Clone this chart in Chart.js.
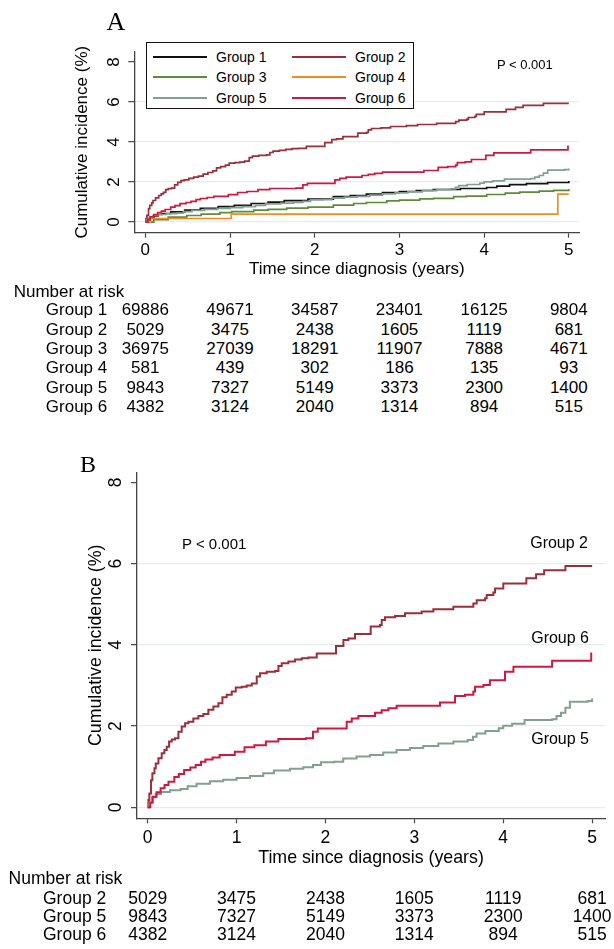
<!DOCTYPE html>
<html lang="en">
<head>
<meta charset="UTF-8">
<title>Cumulative incidence by group</title>
<script src="https://cdn.jsdelivr.net/npm/chart.js"></script>
<style>
  body { margin: 0; background: #fff; color: #000; font-family: "Liberation Sans", Arial, sans-serif; }
  #page { position: relative; width: 614px; height: 949px; overflow: hidden; }
  canvas { position: absolute; left: 0; }
  #chartA { top: 0; }
  #chartB { top: 440px; }
  .txt { position: absolute; white-space: nowrap; line-height: 1; }
  .letter { font-family: "Liberation Serif", "Times New Roman", serif; }
  #legendA { position: absolute; left: 146px; top: 42px; width: 266px; height: 65px;
             border: 1.3px solid #111; background: #fff; }
  .swatch { position: absolute; height: 2px; }
</style>
</head>
<body>
<div id="page">
  <canvas id="chartA" width="614" height="285"></canvas>
  <canvas id="chartB" width="614" height="430"></canvas>
  <div id="legendA"></div>
</div>

<script>
  const FONT = '"Liberation Sans", Arial, sans-serif';

  // axes
  const xTicks = [0, 1, 2, 3, 4, 5];
  const yTicks = [0, 2, 4, 6, 8];

  const groupNames = ['Group 1', 'Group 2', 'Group 3', 'Group 4', 'Group 5', 'Group 6'];
  const lineColors = ['#111111', '#9b2f39', '#5f8a3a', '#f08c22', '#82a08f', '#d2173f'];

  // cumulative incidence (%): [years, value]
  const group1 = [[0, 0.02], [0.02, 0.12], [0.05, 0.22], [0.1, 0.31], [0.15, 0.38], [0.2, 0.43], [0.3, 0.51],
    [0.465, 0.60], [0.65, 0.69], [0.86, 0.77], [1.05, 0.84], [1.25, 0.93], [1.45, 1.00], [1.64, 1.07],
    [1.92, 1.15], [2.22, 1.27], [2.42, 1.33], [2.61, 1.40], [2.8, 1.47], [3.0, 1.53], [3.2, 1.58],
    [3.4, 1.63], [3.72, 1.68], [4.03, 1.73], [4.15, 1.80], [4.3, 1.87], [4.5, 1.92], [4.75, 1.98], [5.0, 2.05]];
  const group2 = [[0, 0], [0.008, 0.18], [0.019, 0.34], [0.038, 0.67], [0.053, 0.84], [0.076, 0.96],
    [0.091, 1.08], [0.121, 1.21], [0.158, 1.33], [0.188, 1.41], [0.214, 1.49], [0.241, 1.62], [0.271, 1.67],
    [0.308, 1.70], [0.346, 1.86], [0.383, 1.99], [0.421, 2.07], [0.458, 2.11], [0.514, 2.19], [0.571, 2.25],
    [0.627, 2.30], [0.683, 2.40], [0.739, 2.48], [0.796, 2.56], [0.841, 2.71], [0.889, 2.77], [0.946, 2.85],
    [0.991, 2.95], [1.058, 2.97], [1.114, 3.00], [1.171, 3.05], [1.227, 3.22], [1.264, 3.30], [1.339, 3.34],
    [1.433, 3.36], [1.471, 3.48], [1.508, 3.55], [1.583, 3.59], [1.658, 3.64], [1.733, 3.67], [1.808, 3.69],
    [1.902, 3.79], [2.119, 3.97], [2.202, 4.12], [2.258, 4.16], [2.333, 4.27], [2.509, 4.45], [2.614, 4.49],
    [2.633, 4.61], [2.67, 4.68], [2.783, 4.71], [2.895, 4.78], [3.083, 4.82], [3.214, 4.88], [3.439, 4.94],
    [3.664, 5.02], [3.702, 5.10], [3.796, 5.15], [3.814, 5.23], [3.889, 5.29], [3.908, 5.39], [4.001, 5.51],
    [4.26, 5.64], [4.37, 5.74], [4.46, 5.84], [4.70, 5.94], [5.0, 5.94]];
  const group3 = [[0, 0], [0.1, 0.12], [0.27, 0.25], [0.49, 0.33], [0.66, 0.40], [0.88, 0.47], [1.02, 0.52],
    [1.28, 0.60], [1.45, 0.64], [1.67, 0.70], [1.92, 0.75], [2.22, 0.85], [2.46, 0.93], [2.61, 0.98],
    [2.85, 1.06], [3.0, 1.10], [3.24, 1.16], [3.4, 1.19], [3.64, 1.27], [3.79, 1.30], [4.03, 1.38],
    [4.25, 1.45], [4.42, 1.50], [4.65, 1.55], [4.82, 1.59], [5.0, 1.65]];
  const group4 = [[0, 0], [0.06, 0.18], [1.015, 0.40], [4.87, 1.40], [5.0, 1.40]];
  const group5 = [[0, 0], [0.02, 0.12], [0.05, 0.25], [0.09, 0.33], [0.15, 0.38], [0.25, 0.42], [0.37, 0.45],
    [0.45, 0.52], [0.55, 0.58], [0.7, 0.64], [0.85, 0.68], [1.0, 0.72], [1.15, 0.77], [1.3, 0.84], [1.42, 0.91],
    [1.6, 0.95], [1.75, 0.99], [1.86, 1.04], [1.95, 1.11], [2.1, 1.12], [2.2, 1.20], [2.35, 1.25], [2.5, 1.29],
    [2.65, 1.35], [2.8, 1.41], [2.95, 1.46], [3.1, 1.51], [3.27, 1.57], [3.44, 1.62], [3.6, 1.66], [3.66, 1.74],
    [3.7, 1.82], [3.8, 1.88], [3.95, 1.95], [4.0, 2.01], [4.1, 2.06], [4.24, 2.15], [4.55, 2.17], [4.6, 2.25],
    [4.65, 2.33], [4.7, 2.45], [4.75, 2.60], [4.95, 2.62], [5.0, 2.68]];
  const group6 = [[0, 0], [0.03, 0.12], [0.057, 0.26], [0.1, 0.37], [0.145, 0.47], [0.19, 0.55], [0.234, 0.63],
    [0.3, 0.75], [0.35, 0.82], [0.41, 0.92], [0.48, 0.98], [0.54, 1.04], [0.6, 1.12], [0.65, 1.18], [0.73, 1.23],
    [0.81, 1.29], [0.98, 1.37], [1.09, 1.48], [1.2, 1.53], [1.33, 1.62], [1.47, 1.68], [1.78, 1.70], [1.86, 1.86],
    [1.914, 1.94], [2.239, 2.11], [2.296, 2.19], [2.371, 2.25], [2.558, 2.33], [2.633, 2.39], [2.708, 2.44],
    [2.801, 2.50], [3.289, 2.58], [3.458, 2.74], [3.57, 2.77], [3.664, 2.85], [3.683, 2.97], [3.777, 3.01],
    [3.85, 3.13], [4.02, 3.34], [4.115, 3.46], [4.55, 3.61], [4.99, 3.79], [5.0, 3.79]];
  const allGroups = [group1, group2, group3, group4, group5, group6];

  // number at risk at years 0..5
  const riskGroup1 = [69886, 49671, 34587, 23401, 16125, 9804];
  const riskGroup2 = [5029, 3475, 2438, 1605, 1119, 681];
  const riskGroup3 = [36975, 27039, 18291, 11907, 7888, 4671];
  const riskGroup4 = [581, 439, 302, 186, 135, 93];
  const riskGroup5 = [9843, 7327, 5149, 3373, 2300, 1400];
  const riskGroup6 = [4382, 3124, 2040, 1314, 894, 515];
  const allRisk = [riskGroup1, riskGroup2, riskGroup3, riskGroup4, riskGroup5, riskGroup6];

  const panelAGroups = [0, 1, 2, 3, 4, 5];
  const panelBGroups = [1, 4, 5];

  const page = document.getElementById('page');

  function addText(text, x, y, size, align, extraClass) {
    const d = document.createElement('div');
    d.className = 'txt' + (extraClass ? ' ' + extraClass : '');
    d.textContent = text;
    d.style.fontSize = size + 'px';
    d.style.left = x + 'px';
    d.style.top = y + 'px';
    const tx = align === 'center' ? '-50%' : (align === 'right' ? '-100%' : '0');
    d.style.transform = 'translate(' + tx + ', -50%)';
    page.appendChild(d);
    return d;
  }

  function makeChart(id, shown, o) {
    const datasets = shown.map(i => ({
      label: groupNames[i],
      data: allGroups[i].map(p => ({ x: p[0], y: p[1] })),
      borderColor: lineColors[i],
      borderWidth: o.lineWidth,
      stepped: 'before',
      pointRadius: 0,
      tension: 0,
      fill: false,
      order: 10 - i
    }));
    return new Chart(document.getElementById(id), {
      type: 'line',
      data: { datasets: datasets },
      options: {
        responsive: false,
        animation: false,
        events: [],
        layout: { padding: o.pad },
        plugins: { legend: { display: false }, tooltip: { enabled: false } },
        scales: {
          x: {
            type: 'linear', min: o.xMin, max: o.xMax,
            afterBuildTicks: s => { s.ticks = xTicks.map(v => ({ value: v })); },
            afterFit: s => { s.height = o.xHeight; },
            ticks: { autoSkip: false, maxRotation: 0, minRotation: 0, padding: o.xTickPad, color: '#000',
                     font: { family: FONT, size: o.tickSize, lineHeight: 1.2 }, callback: v => String(v) },
            grid: { drawOnChartArea: false, drawTicks: true, tickLength: 5, tickColor: '#444', tickWidth: 1.2 },
            border: { color: '#444', width: 1.3 },
            title: { display: true, text: 'Time since diagnosis (years)', color: '#000', padding: 0,
                     font: { family: FONT, size: o.titleSize, lineHeight: 1.2 } }
          },
          y: {
            type: 'linear', min: o.yMin, max: o.yMax,
            afterBuildTicks: s => { s.ticks = yTicks.map(v => ({ value: v })); },
            afterFit: s => { s.width = o.yWidth; },
            ticks: { minRotation: 90, maxRotation: 90, crossAlign: 'center', padding: o.yTickPad, color: '#000',
                     font: { family: FONT, size: o.tickSize, lineHeight: 1.2 }, callback: v => String(v) },
            grid: {
              color: c => (c.tick && c.tick.value === 8) ? 'rgba(0,0,0,0)' : '#e4eef0',
              lineWidth: 1.3, drawTicks: true, tickLength: 6, tickColor: '#444', tickWidth: 1.2
            },
            border: { color: '#444', width: 1.3 },
            title: { display: true, text: 'Cumulative incidence (%)', color: '#000', padding: 0,
                     font: { family: FONT, size: o.titleSize, lineHeight: 1.2 } }
          }
        }
      }
    });
  }

  const chartA = makeChart('chartA', panelAGroups, {
    xMin: -0.13, xMax: 5.126, yMin: -0.53, yMax: 8.52,
    pad: { left: 71.8, top: 51.7, right: 34.5, bottom: 5.5 },
    yWidth: 62.5, xHeight: 46.8, tickSize: 17, titleSize: 17,
    yTickPad: 9, xTickPad: 2, lineWidth: 1.7
  });

  const chartB = makeChart('chartB', panelBGroups, {
    xMin: -0.12, xMax: 5.145, yMin: -0.27, yMax: 8.25,
    pad: { left: 85.3, top: 32.3, right: 9, bottom: 1.6 },
    yWidth: 51.7, xHeight: 50.1, tickSize: 17.5, titleSize: 17.8,
    yTickPad: 10, xTickPad: 4.5, lineWidth: 2
  });

  // legend for panel A (2 columns, 3 rows)
  const legend = document.getElementById('legendA');
  const legendRows = [14, 34, 55];
  const legendCols = [{ line: 6, text: 69 }, { line: 144.5, text: 208 }];
  panelAGroups.forEach((g, k) => {
    const row = Math.floor(k / 2), col = k % 2;
    const sw = document.createElement('div');
    sw.className = 'swatch';
    sw.style.left = legendCols[col].line + 'px';
    sw.style.width = '54px';
    sw.style.top = (legendRows[row] - 1) + 'px';
    sw.style.background = lineColors[g];
    legend.appendChild(sw);
    const t = document.createElement('div');
    t.className = 'txt';
    t.textContent = groupNames[g];
    t.style.fontSize = '14px';
    t.style.left = legendCols[col].text + 'px';
    t.style.top = legendRows[row] + 'px';
    t.style.transform = 'translateY(-50%)';
    legend.appendChild(t);
  });

  // panel letters and annotations
  addText('A', 106.5, 22.4, 26, 'left', 'letter');
  addText('B', 80, 464, 24, 'left', 'letter');
  addText('P < 0.001', 497, 64.3, 13, 'left');
  addText('P < 0.001', 182, 543.3, 15, 'left');
  addText('Group 2', 588, 543.3, 16, 'right');
  addText('Group 6', 589, 637.7, 16, 'right');
  addText('Group 5', 589, 739.3, 16, 'right');

  // number at risk tables, columns centred on the x ticks
  function riskTable(chart, top, groups, title, rows, labelX, size) {
    addText('Number at risk', title.x, title.y, size, 'left');
    groups.forEach((g, r) => {
      addText(groupNames[g], labelX, rows[r], size, 'left');
      allRisk[g].forEach((n, c) => {
        const px = chart.scales.x.getPixelForValue(xTicks[c]);
        addText(String(n), px, rows[r], size, 'center');
      });
    });
  }
  riskTable(chartA, 0, panelAGroups, { x: 13.7, y: 291 },
            [309.3, 328.6, 347.9, 367.2, 386.5, 405.8], 45.8, 17);
  riskTable(chartB, 440, panelBGroups, { x: 8.6, y: 879 },
            [899.3, 917.2, 935.1], 43, 17.5);
</script>
</body>
</html>
